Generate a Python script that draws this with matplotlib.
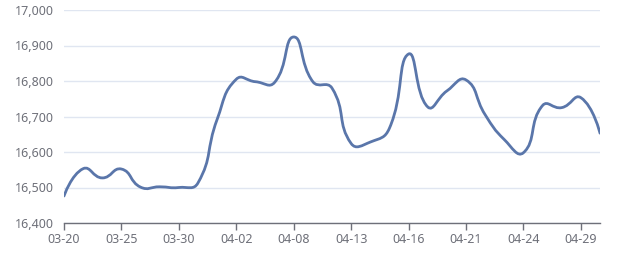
import numpy as np
import matplotlib
matplotlib.use("Agg")
import matplotlib.pyplot as plt
from matplotlib.path import Path
from matplotlib.patches import PathPatch
from matplotlib.ticker import FuncFormatter

# daily price, one value per category on the x axis
prices = [16476, 16553, 16527, 16552, 16501, 16502, 16500, 16513, 16692,
          16805, 16798, 16796, 16924, 16798, 16780, 16624, 16628, 16667,
          16876, 16727, 16772, 16803, 16705, 16635, 16598, 16731, 16725,
          16753, 16653]
tick_labels = ["03-20", "03-25", "03-30", "04-02", "04-08",
               "04-13", "04-16", "04-21", "04-24", "04-29"]
label_step = 3
y_ticks = [16400, 16500, 16600, 16700, 16800, 16900, 17000]

line_color = "#5a76aa"
grid_color = "#e0e6f1"
axis_color = "#6e7079"

plt.rcParams["font.family"] = ["Noto Sans", "DejaVu Sans"]


def smooth_path(ax, xs, ys, smooth=0.5):
	# echarts style bezier smoothing, done in display (pixel) space
	pts = ax.transData.transform(np.column_stack([xs, ys]))
	n = len(pts)
	verts = [pts[0]]
	codes = [Path.MOVETO]
	cp0 = pts[0]
	for k in range(1, n):
		prev = pts[k - 1]
		cur = pts[k]
		if k == n - 1:
			ratio = 0.5
			v = np.zeros(2)
			next_cp0 = cur
		else:
			nxt = pts[k + 1]
			v = nxt - prev
			len_prev = np.hypot(*(cur - prev))
			len_next = np.hypot(*(nxt - cur))
			ratio = len_next / (len_next + len_prev)
			next_cp0 = cur + v * smooth * ratio
		cp1 = cur - v * smooth * (1 - ratio)
		verts += [cp0, cp1, cur]
		codes += [Path.CURVE4] * 3
		cp0 = next_cp0
	verts = ax.transData.inverted().transform(np.array(verts))
	return Path(verts, codes)


fig = plt.figure(figsize=(6.4, 2.7), dpi=100)
ax = fig.add_axes([64 / 640, 1 - 223 / 270, 536 / 640, 213 / 270])

x = np.arange(len(prices))
ax.set_xlim(0, len(prices) - 1)
ax.set_ylim(y_ticks[0], y_ticks[-1])

ax.set_yticks(y_ticks)
ax.yaxis.set_major_formatter(FuncFormatter(lambda v, p: "{:,.0f}".format(v)))
ax.set_xticks(x[::label_step])
ax.set_xticklabels(tick_labels)

ax.grid(axis="y", color=grid_color, linewidth=1)
ax.set_axisbelow(True)
for side in ["top", "right", "left"]:
	ax.spines[side].set_visible(False)
ax.spines["bottom"].set_color(axis_color)
ax.spines["bottom"].set_linewidth(1)
ax.tick_params(axis="x", colors=axis_color, length=5, width=1, pad=2, labelsize=9)
ax.tick_params(axis="y", colors=axis_color, length=0, pad=7, labelsize=9)

path = smooth_path(ax, x, prices)
ax.add_patch(PathPatch(path, fill=False, edgecolor=line_color, linewidth=2,
                       capstyle="round", joinstyle="round", zorder=3))

fig.savefig("out.png", dpi=100, facecolor="white")
